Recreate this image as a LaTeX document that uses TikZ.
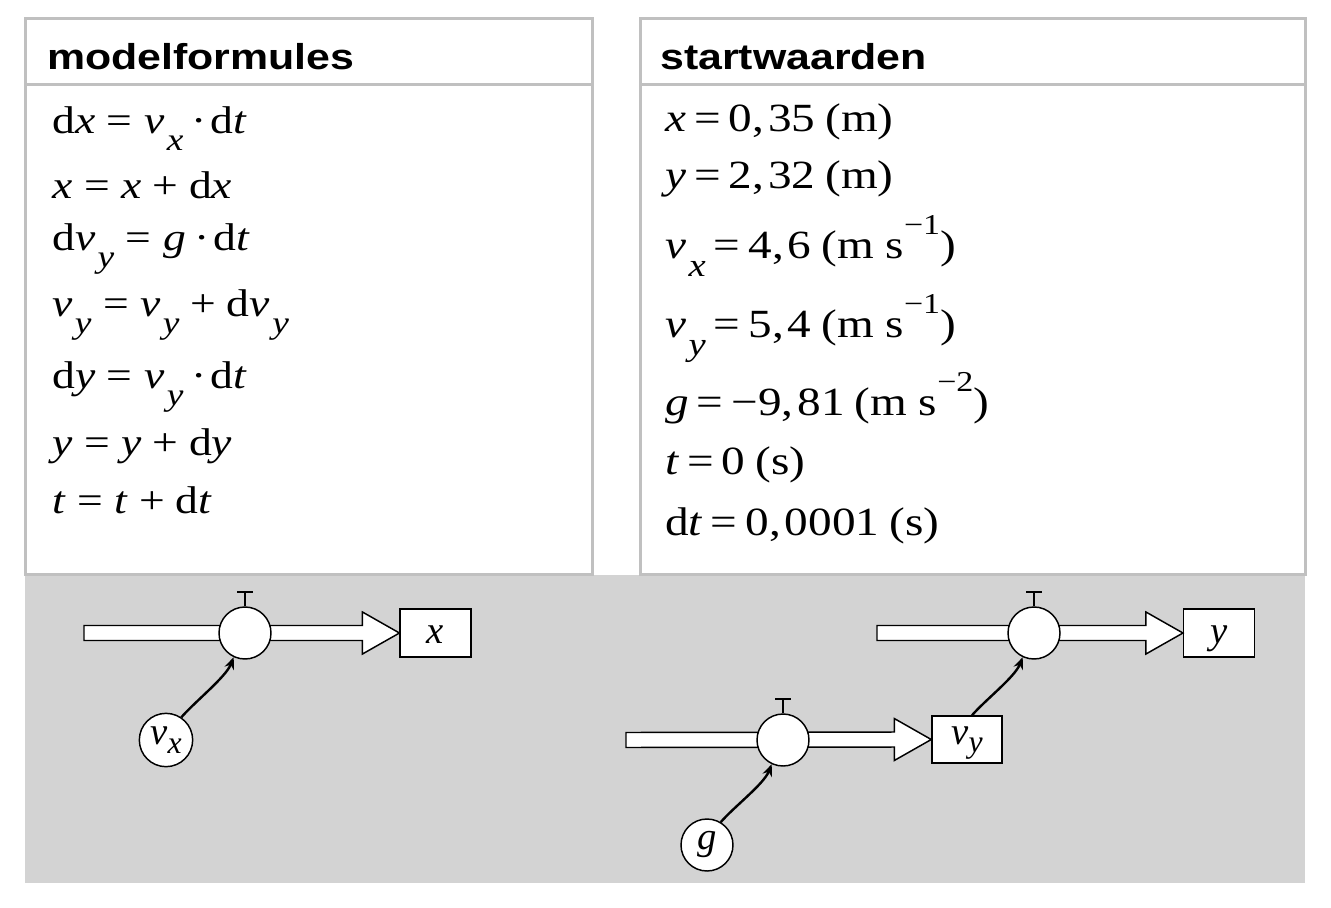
\documentclass[tikz,border=0pt]{standalone}
\usepackage{fontspec}
\usepackage{graphicx}
\setmainfont{Liberation Serif}
\newfontfamily\hdfont[FakeStretch=1.19]{Liberation Sans}
\newfontfamily\fmfont[FakeStretch=1.18]{Liberation Serif}
\usetikzlibrary{arrows.meta,calc}
\newcommand\iv[1]{\textit{#1}}
\newcommand\ssub[1]{\hspace{0.06em}\raisebox{-0.45em}{\scalebox{0.82}{\itshape #1}}}
\newcommand\lsub[1]{\raisebox{-0.22em}{\scalebox{0.82}{\itshape #1}}}
\newcommand\ssup[1]{\raisebox{0.6em}{\scalebox{0.72}{#1}}}
\newcommand\eq{\hspace{0.2em}=\hspace{0.2em}}
\newcommand\eqL{\hspace{0.3em}=\hspace{0.3em}}
\newcommand\plL{\hspace{0.28em}+\hspace{0.28em}}
\newcommand\cd{\hspace{0.22em}·\hspace{0.1em}}
\newcommand\pipe[2]{%
  \filldraw[pipeline] ($(#1)+(0,-7.5)$) -- ($(#2.west)+(-37,-7.5)$) -- ($(#2.west)+(-37,-21)$) -- (#2.west)
    -- ($(#2.west)+(-37,21)$) -- ($(#2.west)+(-37,7.5)$) -- ($(#1)+(0,7.5)$) -- cycle;}
\definecolor{tblgray}{RGB}{192,192,192}
\definecolor{bggray}{RGB}{211,211,211}
\tikzset{
  hd/.style={font=\hdfont\bfseries\fontsize{27}{32}\selectfont, anchor=base west, inner sep=0},
  fl/.style={font=\fmfont\fontsize{29}{33}\selectfont, anchor=base west, inner sep=0},
  fr/.style={font=\fmfont\fontsize{30}{34}\selectfont, anchor=base west, inner sep=0},
  tbl/.style={draw=tblgray, line width=2.25pt},
  pipeline/.style={draw=black, fill=white, line width=1.1pt, line join=miter},
  valve/.style={circle, draw=black, fill=white, line width=1.1pt, minimum size=39pt, inner sep=0},
  stock/.style={rectangle, draw=black, fill=white, line width=1.1pt, minimum width=53pt, minimum height=36pt, inner sep=0,
    font=\fontsize{29}{32}\selectfont\itshape, text height=20pt, text depth=5pt},
  aux/.style={circle, draw=black, fill=white, line width=1.1pt, minimum size=40pt, inner sep=0,
    font=\fontsize{29}{32}\selectfont\itshape},
  link/.style={draw=black, line width=1.8pt, -{Stealth[length=9pt,width=7.5pt]}},
  stem/.style={draw=black, line width=1.3pt},
  bar/.style={draw=black, line width=1.8pt}
}
\begin{document}
\begin{tikzpicture}[x=0.75pt, y=-0.75pt]
\useasboundingbox (0,0) rectangle (1331,907);
% grey diagram background
\fill[bggray] (25,575) rectangle (1305,883);
% tables
\draw[tbl] (25,18) rectangle (592,574);
\draw[tbl] (25,84) -- (592,84);
\draw[tbl] (640,18) rectangle (1305,574);
\draw[tbl] (640,84) -- (1305,84);
\node[hd] (h1) at (47,69) {modelformules};
\node[hd] (h2) at (660,69) {startwaarden};
% model formulas
\node[fl] (l1) at (52,133) {d\iv{x}\eqL\iv{v}\ssub{x}\cd d\iv{t}};
\node[fl] (l2) at (52,198) {\iv{x}\eqL\iv{x}\plL d\iv{x}};
\node[fl] (l3) at (52,250) {d\iv{v}\ssub{y}\eqL\iv{g}\cd d\iv{t}};
\node[fl] (l4) at (52,316) {\iv{v}\ssub{y}\eqL\iv{v}\ssub{y}\plL d\iv{v}\ssub{y}};
\node[fl] (l5) at (52,388) {d\iv{y}\eqL\iv{v}\ssub{y}\cd d\iv{t}};
\node[fl] (l6) at (52,455) {\iv{y}\eqL\iv{y}\plL d\iv{y}};
\node[fl] (l7) at (52,513) {\iv{t}\eqL\iv{t}\plL d\iv{t}};
% start values
\node[fr] (r1) at (665,131) {\iv{x}\eq 0,\hspace{0.1em}35\hspace{0.25em}(m)};
\node[fr] (r2) at (665,188) {\iv{y}\eq 2,\hspace{0.1em}32\hspace{0.25em}(m)};
\node[fr] (r3) at (665,258) {\iv{v}\ssub{x}\eq 4,\hspace{0.1em}6\hspace{0.25em}(m s\ssup{−1})};
\node[fr] (r4) at (665,337) {\iv{v}\ssub{y}\eq 5,\hspace{0.1em}4\hspace{0.25em}(m s\ssup{−1})};
\node[fr] (r5) at (665,415) {\iv{g}\eq −9,\hspace{0.1em}81\hspace{0.25em}(m s\ssup{−2})};
\node[fr] (r6) at (665,474) {\iv{t}\eq 0\hspace{0.25em}(s)};
\node[fr] (r7) at (665,535) {d\iv{t}\eq 0,\hspace{0.1em}0001\hspace{0.25em}(s)};
% ---- diagram ----
\node[stock] (bx) at (435.5,633) {x};
\node[stock] (by) at (1219,633) {y};
\node[stock, minimum width=52.5pt, minimum height=35.25pt, text height=15pt, text depth=8.25pt] (bvy) at (967,739.5) {v\lsub{y}};
\coordinate (s1) at (84,633);
\coordinate (s2) at (877,633);
\coordinate (s3) at (626,740);
\pipe{s1}{bx}
\pipe{s2}{by}
\pipe{s3}{bvy}
\node[valve] (v1) at (245,633) {};
\node[valve] (v2) at (1034,633) {};
\node[valve] (v3) at (783,740) {};
\foreach \v in {v1,v2,v3}{
  \draw[stem] (\v.north) -- ++(0,-14) coordinate (\v t);
  \draw[bar] ($(\v t)+(-8,0)$) -- ($(\v t)+(8,0)$);
}
\node[aux] (vx) at (166,740) {v\lsub{x}};
\node[aux, minimum size=39pt] (g) at (707,845) {g};
\draw[link] (vx.56) .. controls ($(vx.56)+(14,-16)$) and ($(v1.245)+(-8,20)$) .. (v1.245);
\draw[link] (g.59) .. controls ($(g.59)+(14,-16)$) and ($(v3.245)+(-8,20)$) .. (v3.245);
\coordinate (vyt) at ($(bvy.north)+(5,0)$);
\draw[link] (vyt) .. controls ($(vyt)+(14,-16)$) and ($(v2.245)+(-8,20)$) .. (v2.245);
\end{tikzpicture}
\end{document}
